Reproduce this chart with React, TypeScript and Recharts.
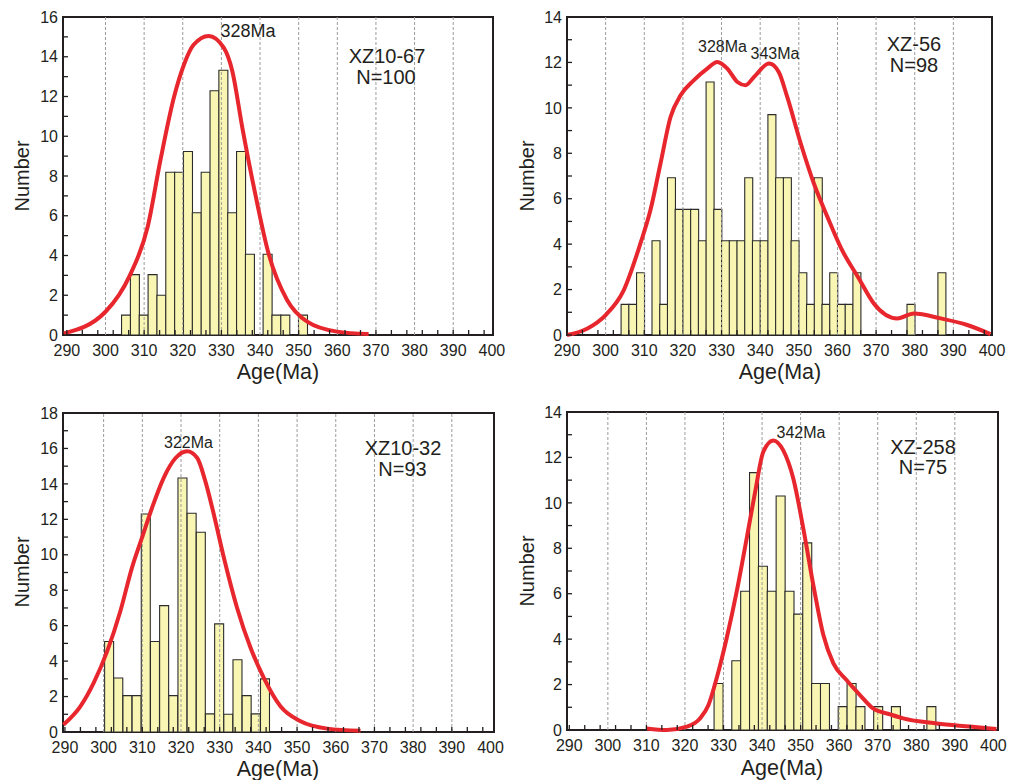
import { ComposedChart, Bar, Line, XAxis, YAxis, ReferenceLine, ReferenceArea } from "recharts";

const INK = "#231f20";
const RED = "#e8262d";
const BAR_FILL = "#f9f6b3";
const FONT = "'Liberation Sans', Arial, Helvetica, sans-serif";

// axis ticks
const ageLabels = [290, 300, 310, 320, 330, 340, 350, 360, 370, 380, 390, 400];
const ageMinorTicks = [290, 294, 298, 302, 306, 310, 314, 318, 322, 326, 330, 334, 338, 342, 346, 350, 354, 358, 362, 366, 370, 374, 378, 382, 386, 390, 394, 398];
const gridAges = [300, 310, 320, 330, 340, 350, 360, 370, 380, 390];
const numberTicks14 = [0, 1, 2, 3, 4, 5, 6, 7, 8, 9, 10, 11, 12, 13, 14];
const numberTicks16 = [0, 1, 2, 3, 4, 5, 6, 7, 8, 9, 10, 11, 12, 13, 14, 15, 16];
const numberTicks18 = [0, 1, 2, 3, 4, 5, 6, 7, 8, 9, 10, 11, 12, 13, 14, 15, 16, 17, 18];

// XZ10-67, N=100
const xz1067Ages = [305.3, 307.59, 309.88, 312.17, 314.46, 316.75, 319.04, 321.33, 323.62, 325.91, 328.2, 330.49, 332.78, 335.07, 337.36, 339.65, 341.94, 344.23, 346.52, 348.81, 351.1];
const xz1067Counts = [1, 3.04, 1, 3.04, 2, 8.19, 8.19, 9.23, 6.15, 8.19, 12.29, 13.32, 6.15, 9.23, 4.06, 0, 4.06, 1, 1, 0, 1];
const xz1067CurveAges = [289.2, 300.0, 306.3, 310.9, 314.2, 317.7, 320.3, 322.8, 326.7, 330.6, 332.8, 335.4, 338.4, 342.2, 347.0, 352.2, 359.9, 368.1];
const xz1067Curve = [0.08, 1.17, 3.0, 5.43, 8.78, 11.95, 13.6, 14.6, 15.05, 14.46, 13.3, 10.45, 7.44, 4.1, 1.76, 0.67, 0.17, 0.05];

// XZ-56, N=98
const xz56Ages = [305, 307, 309, 311, 313, 315, 317, 319, 321, 323, 325, 327, 329, 331, 333, 335, 337, 339, 341, 343, 345, 347, 349, 351, 353, 355, 357, 359, 361, 363, 365, 379, 387];
const xz56Counts = [1.35, 1.35, 2.74, 0, 4.15, 1.35, 6.92, 5.53, 5.53, 5.53, 4.15, 11.14, 5.53, 4.15, 4.15, 4.15, 6.92, 4.15, 4.15, 9.7, 6.92, 6.92, 4.15, 2.74, 1.35, 6.92, 1.35, 2.74, 1.35, 1.35, 2.74, 1.35, 2.74];
const xz56CurveAges = [290, 295.3, 300.0, 304.7, 309.0, 311.6, 314.2, 316.8, 319.4, 322.8, 326.3, 328.9, 331.5, 334.1, 336.2, 338.4, 342.3, 344.8, 347.0, 350.5, 353.9, 357.4, 361.0, 365.5, 369.4, 375.5, 379.8, 386.7, 393.6, 399.6];
const xz56Curve = [0, 0.29, 0.88, 1.98, 4.03, 5.5, 7.55, 9.6, 10.55, 11.21, 11.73, 12.02, 11.73, 11.14, 11.0, 11.36, 11.95, 11.58, 10.48, 8.43, 6.67, 5.2, 3.8, 2.5, 1.39, 0.73, 0.95, 0.73, 0.44, 0.04];

// XZ10-32, N=93
const xz1032Ages = [301.44, 303.81, 306.18, 308.55, 310.92, 313.29, 315.66, 318.03, 320.4, 322.77, 325.14, 327.51, 329.88, 332.25, 334.62, 336.99, 339.36, 341.73];
const xz1032Counts = [5.11, 3.05, 2.05, 2.05, 12.3, 5.11, 7.13, 2.05, 14.33, 12.34, 11.27, 1.02, 6.1, 1.0, 4.08, 2.05, 1.02, 3.0];
const xz1032CurveAges = [289.6, 294.0, 297.4, 300.9, 304.3, 307.3, 309.9, 312.5, 315.5, 318.6, 321.6, 324.2, 326.3, 328.5, 331.1, 334.5, 338.0, 341.4, 345.7, 350.9, 357.8, 366.4];
const xz1032Curve = [0.41, 1.45, 2.76, 4.55, 6.8, 9.25, 10.95, 12.64, 14.33, 15.46, 15.84, 15.46, 14.14, 12.26, 9.82, 7.0, 4.74, 3.05, 1.45, 0.6, 0.19, 0.07];

// XZ-258, N=75
const xz258Ages = [328.7, 331.0, 333.3, 335.6, 337.9, 340.2, 342.5, 344.8, 347.1, 349.4, 351.7, 354.0, 356.3, 358.6, 360.9, 363.2, 365.5, 367.8, 370.1, 372.4, 374.7, 383.9];
const xz258Counts = [2.05, 0, 3.05, 6.11, 11.33, 7.21, 6.11, 10.3, 6.11, 5.1, 8.24, 2.05, 2.05, 0, 1.03, 2.05, 1.03, 0, 1.03, 0, 1.03, 1.03];
const xz258CurveAges = [310.1, 315.3, 320.5, 323.9, 326.1, 328.2, 330.8, 333.4, 336.0, 338.2, 340.3, 342.9, 345.5, 348.1, 350.7, 353.3, 355.9, 358.5, 361.9, 365.4, 368.8, 373.2, 376.6, 385.3, 393.9, 400.8];
const xz258Curve = [0.07, 0, 0.15, 0.51, 1.1, 2.27, 4.03, 6.08, 8.43, 10.48, 12.24, 12.75, 12.31, 11.07, 8.87, 6.38, 4.18, 2.93, 2.2, 1.54, 0.95, 0.69, 0.51, 0.29, 0.15, 0.04];

const Y_W = 63;
const TOP = 17;
const RIGHT = 20;
const X_H = 55;

const allAgeTicks = Array.from(new Set([...ageLabels, ...ageMinorTicks])).sort((a, b) => a - b);

function AgeTick(props: any) {
  const { x, y, payload } = props;
  const v = payload.value;
  return (
    <g>
      {ageMinorTicks.includes(v) && <line x1={x} x2={x} y1={y} y2={y - 5} stroke={INK} strokeWidth={1.3} />}
      {ageLabels.includes(v) && (
        <text x={x} y={y + 21} textAnchor="middle" fontSize={16} fill={INK} fontFamily={FONT}>
          {v}
        </text>
      )}
    </g>
  );
}

function NumberTick(props: any) {
  const { x, y, payload } = props;
  const v = payload.value;
  return (
    <g>
      <line x1={x} x2={x + 5} y1={y} y2={y} stroke={INK} strokeWidth={1.3} />
      {v % 2 === 0 && (
        <text x={x - 5} y={y + 5.7} textAnchor="end" fontSize={16} fill={INK} fontFamily={FONT}>
          {v}
        </text>
      )}
    </g>
  );
}

type Note = { text: string; x: number; y: number; size: number; rotate?: boolean };

type Panel = {
  left: number;
  top: number;
  plotW: number;
  plotH: number;
  domain: [number, number];
  yMax: number;
  yTicks: number[];
  ages: number[];
  counts: number[];
  curveAges: number[];
  curve: number[];
  notes: Note[];
};

const panels: Panel[] = [
  {
    left: 0, top: 0, plotW: 430, plotH: 318, domain: [289, 400.3], yMax: 16, yTicks: numberTicks16,
    ages: xz1067Ages, counts: xz1067Counts, curveAges: xz1067CurveAges, curve: xz1067Curve,
    notes: [
      { text: "Number", x: 28.5, y: 176, size: 20, rotate: true },
      { text: "Age(Ma)", x: 278, y: 379, size: 21.5 },
      { text: "328Ma", x: 248, y: 37, size: 18 },
      { text: "XZ10-67", x: 387, y: 62.5, size: 20 },
      { text: "N=100", x: 386, y: 83.5, size: 20 },
    ],
  },
  {
    left: 504, top: 0, plotW: 425, plotH: 318, domain: [290, 400], yMax: 14, yTicks: numberTicks14,
    ages: xz56Ages, counts: xz56Counts, curveAges: xz56CurveAges, curve: xz56Curve,
    notes: [
      { text: "Number", x: 534, y: 176, size: 20, rotate: true },
      { text: "Age(Ma)", x: 780, y: 379, size: 21.5 },
      { text: "328Ma", x: 722.5, y: 51.5, size: 16 },
      { text: "343Ma", x: 775, y: 59, size: 16 },
      { text: "XZ-56", x: 914, y: 51, size: 20 },
      { text: "N=98", x: 914, y: 72, size: 20 },
    ],
  },
  {
    left: 0, top: 396, plotW: 431, plotH: 319, domain: [289.5, 400.9], yMax: 18, yTicks: numberTicks18,
    ages: xz1032Ages, counts: xz1032Counts, curveAges: xz1032CurveAges, curve: xz1032Curve,
    notes: [
      { text: "Number", x: 28.5, y: 572, size: 20, rotate: true },
      { text: "Age(Ma)", x: 278, y: 776, size: 21.5 },
      { text: "322Ma", x: 188.5, y: 448, size: 16 },
      { text: "XZ10-32", x: 403, y: 454.5, size: 20 },
      { text: "N=93", x: 402.5, y: 475.5, size: 20 },
    ],
  },
  {
    left: 504, top: 395, plotW: 431, plotH: 318, domain: [289.4, 401.2], yMax: 14, yTicks: numberTicks14,
    ages: xz258Ages, counts: xz258Counts, curveAges: xz258CurveAges, curve: xz258Curve,
    notes: [
      { text: "Number", x: 534, y: 571, size: 20, rotate: true },
      { text: "Age(Ma)", x: 782, y: 774.5, size: 21.5 },
      { text: "342Ma", x: 801, y: 437.5, size: 16 },
      { text: "XZ-258", x: 923, y: 453.5, size: 20 },
      { text: "N=75", x: 923, y: 474, size: 20 },
    ],
  },
];

function AgeHistogram({ p }: { p: Panel }) {
  const bins = p.ages.map((age, i) => ({ age, count: p.counts[i] }));
  const kde = p.curveAges.map((age, i) => ({ age, density: p.curve[i] }));

  return (
    <div style={{ position: "absolute", left: p.left, top: p.top }}>
      <ComposedChart
        width={Y_W + p.plotW + RIGHT}
        height={TOP + p.plotH + X_H}
        data={bins}
        barCategoryGap={0}
        barGap={0}
        margin={{ top: TOP, right: RIGHT, left: 0, bottom: 0 }}
      >
        <XAxis
          dataKey="age"
          type="number"
          domain={p.domain}
          ticks={allAgeTicks}
          interval={0}
          height={X_H}
          axisLine={false}
          tickLine={false}
          tickSize={0}
          tickMargin={0}
          tick={<AgeTick />}
        />
        <XAxis xAxisId="kde" dataKey="age" type="number" domain={p.domain} hide />
        <YAxis
          type="number"
          domain={[0, p.yMax]}
          ticks={p.yTicks}
          interval={0}
          width={Y_W}
          axisLine={false}
          tickLine={false}
          tickSize={0}
          tickMargin={0}
          tick={<NumberTick />}
        />
        {gridAges.map((g) => (
          <ReferenceLine key={g} x={g} stroke="#9c9c9c" strokeWidth={1} strokeDasharray="3 2" />
        ))}
        <Bar
          dataKey="count"
          fill={BAR_FILL}
          stroke="#2b2b2b"
          strokeWidth={1.1}
          isAnimationActive={false}
        />
        <ReferenceArea
          x1={p.domain[0]}
          x2={p.domain[1]}
          y1={0}
          y2={p.yMax}
          fill="none"
          fillOpacity={0}
          stroke={INK}
          strokeWidth={2}
          ifOverflow="visible"
        />
        <Line
          xAxisId="kde"
          data={kde}
          dataKey="density"
          type="monotone"
          stroke={RED}
          strokeWidth={4}
          dot={false}
          activeDot={false}
          isAnimationActive={false}
        />
      </ComposedChart>
    </div>
  );
}

export default function App() {
  return (
    <div style={{ position: "absolute", left: 0, top: 0, width: 1021, height: 780, background: "#fff" }}>
      {panels.map((p, i) => (
        <AgeHistogram key={i} p={p} />
      ))}
      <svg
        width={1021}
        height={780}
        style={{ position: "absolute", left: 0, top: 0, pointerEvents: "none" }}
      >
        {panels.flatMap((p, i) =>
          p.notes.map((n, j) => (
            <text
              key={`${i}-${j}`}
              x={n.x}
              y={n.y}
              textAnchor="middle"
              fontSize={n.size}
              fill={INK}
              fontFamily={FONT}
              transform={n.rotate ? `rotate(-90 ${n.x} ${n.y})` : undefined}
            >
              {n.text}
            </text>
          ))
        )}
      </svg>
    </div>
  );
}
